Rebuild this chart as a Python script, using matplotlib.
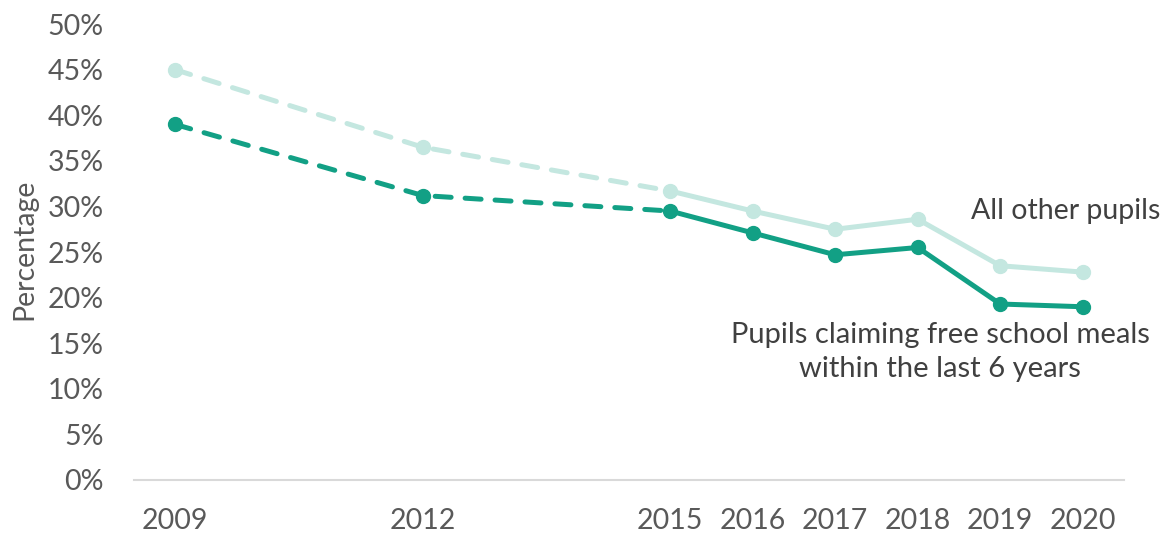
import matplotlib
import matplotlib.pyplot as plt
from matplotlib.ticker import FuncFormatter

matplotlib.use("Agg")

plt.rcParams["font.family"] = ["Lato", "DejaVu Sans"]

years = [2009, 2012, 2015, 2016, 2017, 2018, 2019, 2020]
tick_years = [2009, 2012, 2015, 2016, 2017, 2018, 2019, 2020]
other_pupils = [45.0, 36.5, 31.7, 29.5, 27.5, 28.6, 23.5, 22.8]
fsm_pupils = [39.0, 31.2, 29.5, 27.1, 24.7, 25.5, 19.3, 19.0]

# first three points are joined by a dashed line, the rest solid
n_dashed = 3

_DARK = "#12A085"
_LIGHT = "#C4E7E0"
_TICK = "#595959"
_TEXT = "#404040"
_FS = 20.5

fig = plt.figure(figsize=(11.72, 5.36), dpi=100)
ax = fig.add_axes([0.1143, 0.1045, 0.8447, 0.8505])

for vals, color in [(other_pupils, _LIGHT), (fsm_pupils, _DARK)]:
    ax.plot(years[:n_dashed], vals[:n_dashed], color=color, lw=3.6,
            ls=(0, (3.2, 2.8)), dash_capstyle="round", zorder=2)
    ax.plot(years[n_dashed - 1:], vals[n_dashed - 1:], color=color, lw=3.6,
            solid_capstyle="round", zorder=2)
    ax.plot(years, vals, ls="none", marker="o", ms=10, color=color, zorder=3)

ax.set_xlim(2008.5, 2020.5)
ax.set_ylim(0, 50)
ax.set_yticks(range(0, 51, 5))
ax.yaxis.set_major_formatter(FuncFormatter(lambda v, _: f"{v:.0f}%"))
ax.set_xticks(tick_years)
ax.set_xticklabels([str(y) for y in tick_years])

for side in ["top", "right", "left"]:
    ax.spines[side].set_visible(False)
ax.spines["bottom"].set_color("#D9D9D9")
ax.spines["bottom"].set_linewidth(1.5)
ax.tick_params(axis="both", length=0, labelsize=_FS, colors=_TICK)
ax.tick_params(axis="x", pad=20)
ax.tick_params(axis="y", pad=22)

fig.text(0.021, 0.535, "Percentage", rotation=90, ha="center", va="center",
         fontsize=_FS, color=_TICK)

fig.text(0.99, 0.607, "All other pupils", ha="right", va="center",
         fontsize=_FS, color=_TEXT)
fig.text(0.802, 0.343, "Pupils claiming free school meals\nwithin the last 6 years",
         ha="center", va="center", fontsize=_FS + 0.5, color=_TEXT, linespacing=1.38)

fig.savefig("out.png", dpi=100)
plt.close(fig)
